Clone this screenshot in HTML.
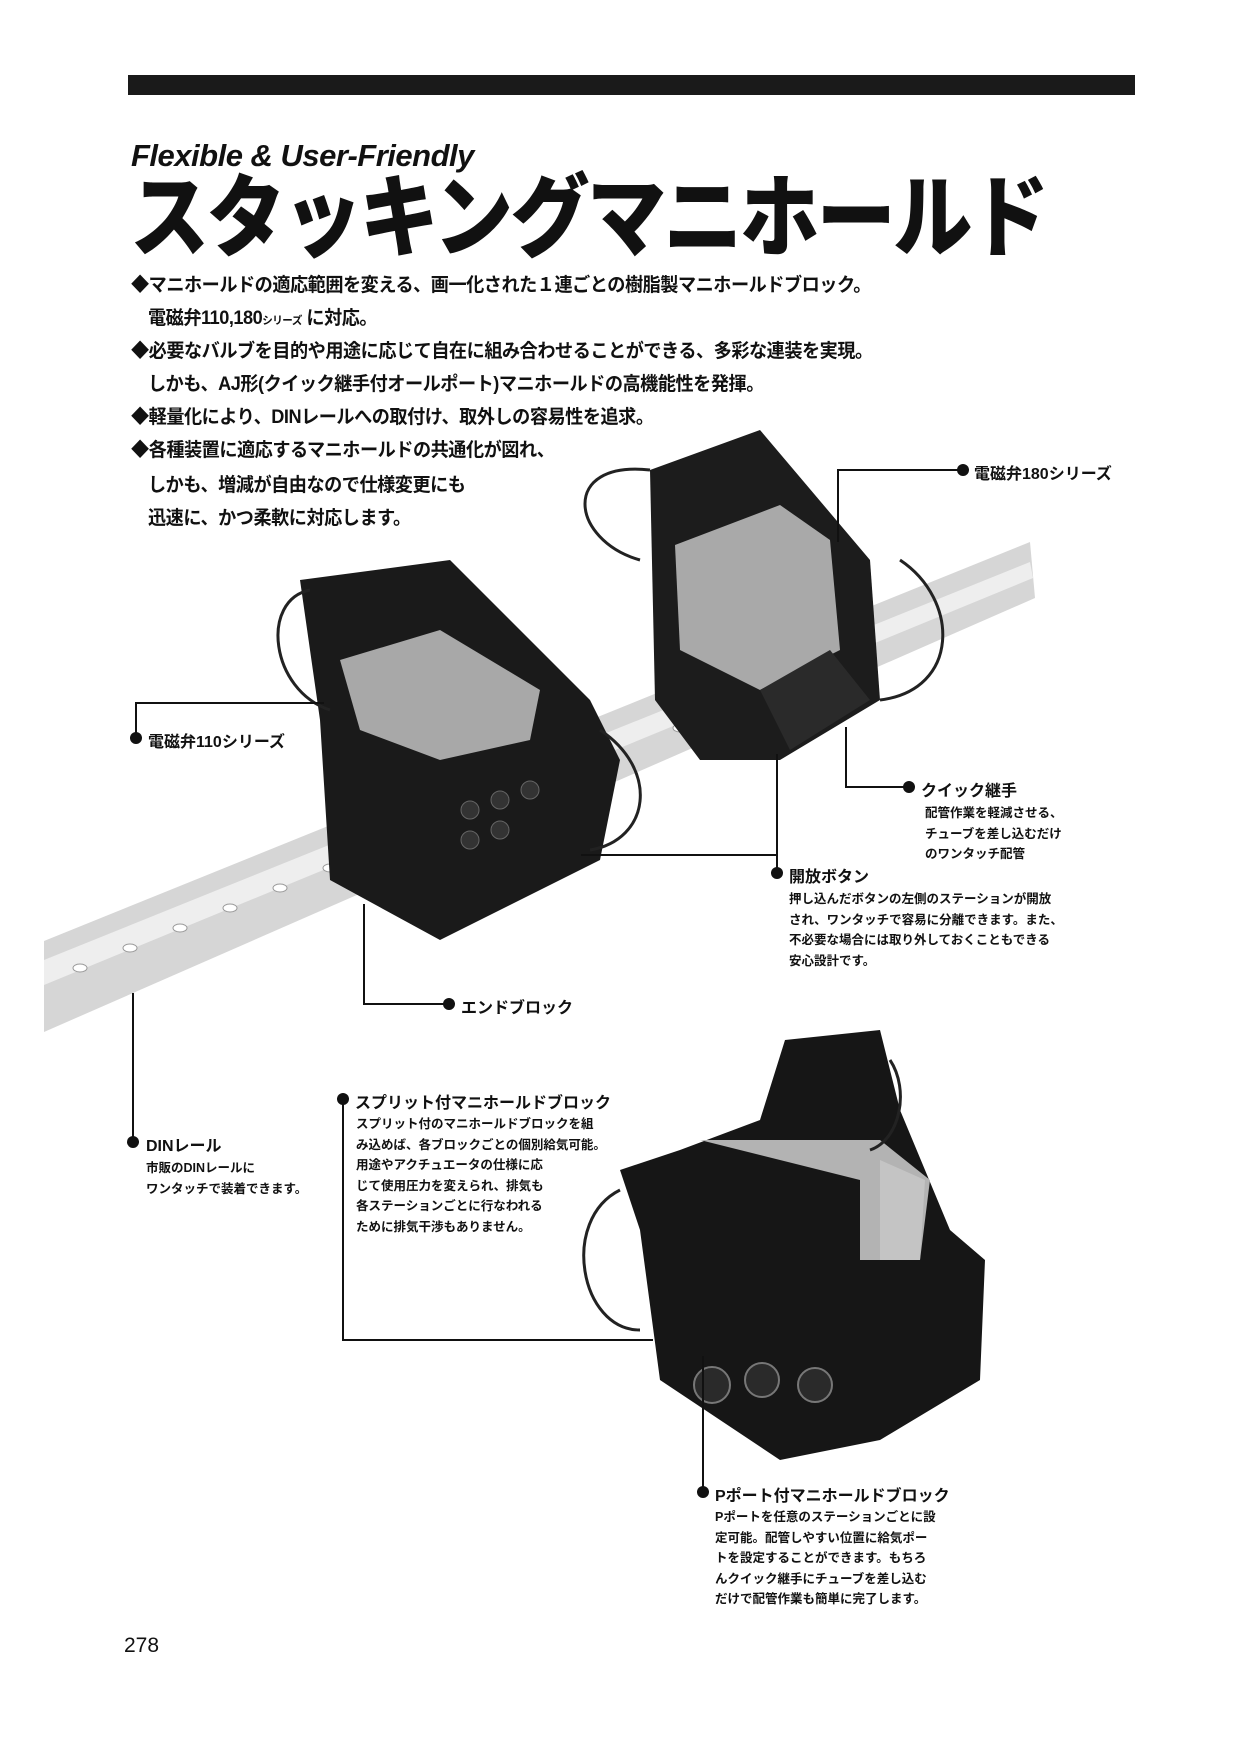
<!DOCTYPE html>
<html><head><meta charset="utf-8"><style>
html,body{margin:0;padding:0;background:#fff}
body{width:1240px;height:1753px;position:relative;overflow:hidden;font-family:"Liberation Sans","Noto Sans CJK JP",sans-serif;color:#111}
.a{position:absolute;white-space:nowrap}
.b{font-size:19px;font-weight:bold;letter-spacing:-0.5px;transform:scaleX(0.955);transform-origin:left}
.lab{font-size:16px;font-weight:bold}
.d{font-size:12.5px;font-weight:bold;line-height:20.5px;white-space:nowrap}
svg{position:absolute;left:0;top:0}
</style></head><body>
<svg width="1240" height="1753" viewBox="0 0 1240 1753">
<rect x="128" y="75" width="1007" height="20" fill="#1a1a1a"/>
<polygon points="44,941 1030,542 1035,598 44,1032" fill="#d6d6d6"/>
<polygon points="44,960 1030,562 1033,578 44,985" fill="#eeeeee"/>
<g fill="#fff" stroke="#999" stroke-width="1">
<ellipse cx="80" cy="968" rx="7" ry="4"/><ellipse cx="130" cy="948" rx="7" ry="4"/><ellipse cx="180" cy="928" rx="7" ry="4"/><ellipse cx="230" cy="908" rx="7" ry="4"/><ellipse cx="280" cy="888" rx="7" ry="4"/><ellipse cx="330" cy="868" rx="7" ry="4"/><ellipse cx="680" cy="728" rx="7" ry="4"/><ellipse cx="720" cy="712" rx="7" ry="4"/>
</g>
<polygon points="650,470 760,430 870,560 880,700 780,760 700,760 655,700" fill="#1c1c1c"/>
<polygon points="675,545 780,505 830,540 840,650 760,690 680,650" fill="#a9a9a9"/>
<polygon points="760,690 830,650 870,700 790,750" fill="#2a2a2a"/>
<g fill="none" stroke="#222" stroke-width="3"><path d="M650,470 C560,460 570,540 640,560"/><path d="M900,560 C960,600 960,690 880,700"/></g>
<polygon points="300,580 450,560 590,700 620,760 600,860 440,940 330,880 320,720" fill="#1a1a1a"/>
<polygon points="340,660 440,630 540,690 530,740 440,760 360,730" fill="#a8a8a8"/>
<g fill="none" stroke="#222" stroke-width="3"><path d="M310,590 C260,600 270,690 330,710"/><path d="M600,730 C660,770 650,840 590,850"/></g>
<g fill="#333" stroke="#666"><circle cx="470" cy="810" r="9"/><circle cx="500" cy="800" r="9"/><circle cx="530" cy="790" r="9"/><circle cx="470" cy="840" r="9"/><circle cx="500" cy="830" r="9"/></g>
<polygon points="785,1040 880,1030 900,1110 950,1230 985,1260 980,1380 880,1440 780,1460 660,1380 640,1230 620,1170 680,1150 760,1120" fill="#161616"/>
<polygon points="700,1140 880,1140 930,1180 920,1260 860,1260 860,1180" fill="#b3b3b3"/>
<polygon points="880,1160 925,1180 920,1260 880,1260" fill="#c4c4c4"/>
<g fill="none" stroke="#222" stroke-width="3"><path d="M620,1190 C560,1220 580,1330 640,1330"/><path d="M890,1060 C910,1090 900,1140 870,1150"/></g>
<g fill="#2a2a2a" stroke="#777" stroke-width="2"><circle cx="712" cy="1385" r="18"/><circle cx="762" cy="1380" r="17"/><circle cx="815" cy="1385" r="17"/></g>
<g stroke="#111" stroke-width="2" fill="none">
<polyline points="838,542 838,470 963,470"/>
<polyline points="324,703 136,703 136,738"/>
<polyline points="846,727 846,787 909,787"/>
<polyline points="581,855 777,855"/><line x1="777" y1="754" x2="777" y2="873"/>
<polyline points="364,904 364,1004 449,1004"/>
<line x1="133" y1="993" x2="133" y2="1142"/>
<polyline points="653,1340 343,1340 343,1099"/>
<line x1="703" y1="1356" x2="703" y2="1492"/>
</g>
<g fill="#111"><circle cx="963" cy="470" r="6"/><circle cx="136" cy="738" r="6"/><circle cx="909" cy="787" r="6"/><circle cx="777" cy="873" r="6"/><circle cx="449" cy="1004" r="6"/><circle cx="133" cy="1142" r="6"/><circle cx="343" cy="1099" r="6"/><circle cx="703" cy="1492" r="6"/></g>
</svg>
<div class="a" style="left:131px;top:138px;font-size:31px;font-weight:bold;font-style:italic;letter-spacing:-0.5px">Flexible &amp; User-Friendly</div>
<div class="a" style="left:130px;top:172px;font-size:90px;font-weight:900;line-height:94px;letter-spacing:-3px;transform:scaleX(0.88);transform-origin:left">スタッキングマニホールド</div>
<div class="a b" style="left:131px;top:270px">◆マニホールドの適応範囲を変える、画一化された１連ごとの樹脂製マニホールドブロック。</div>
<div class="a b" style="left:148px;top:303px">電磁弁110,180<span style="font-size:11px">シリーズ</span> に対応。</div>
<div class="a b" style="left:131px;top:336px">◆必要なバルブを目的や用途に応じて自在に組み合わせることができる、多彩な連装を実現。</div>
<div class="a b" style="left:148px;top:369px">しかも、AJ形(クイック継手付オールポート)マニホールドの高機能性を発揮。</div>
<div class="a b" style="left:131px;top:402px">◆軽量化により、DINレールへの取付け、取外しの容易性を追求。</div>
<div class="a b" style="left:131px;top:435px">◆各種装置に適応するマニホールドの共通化が図れ、</div>
<div class="a b" style="left:148px;top:470px">しかも、増減が自由なので仕様変更にも</div>
<div class="a b" style="left:148px;top:503px">迅速に、かつ柔軟に対応します。</div>

<div class="a lab" style="left:974px;top:460px">電磁弁180シリーズ</div>
<div class="a lab" style="left:148px;top:728px">電磁弁110シリーズ</div>
<div class="a lab" style="left:921px;top:777px">クイック継手</div>
<div class="a d" style="left:925px;top:803px">配管作業を軽減させる、<br>チューブを差し込むだけ<br>のワンタッチ配管</div>
<div class="a lab" style="left:789px;top:863px">開放ボタン</div>
<div class="a d" style="left:789px;top:889px">押し込んだボタンの左側のステーションが開放<br>され、ワンタッチで容易に分離できます。また、<br>不必要な場合には取り外しておくこともできる<br>安心設計です。</div>
<div class="a lab" style="left:461px;top:994px">エンドブロック</div>
<div class="a lab" style="left:146px;top:1132px">DINレール</div>
<div class="a d" style="left:146px;top:1158px">市販のDINレールに<br>ワンタッチで装着できます。</div>
<div class="a lab" style="left:355px;top:1089px">スプリット付マニホールドブロック</div>
<div class="a d" style="left:356px;top:1114px">スプリット付のマニホールドブロックを組<br>み込めば、各ブロックごとの個別給気可能。<br>用途やアクチュエータの仕様に応<br>じて使用圧力を変えられ、排気も<br>各ステーションごとに行なわれる<br>ために排気干渉もありません。</div>
<div class="a lab" style="left:715px;top:1482px">Pポート付マニホールドブロック</div>
<div class="a d" style="left:715px;top:1507px">Pポートを任意のステーションごとに設<br>定可能。配管しやすい位置に給気ポー<br>トを設定することができます。もちろ<br>んクイック継手にチューブを差し込む<br>だけで配管作業も簡単に完了します。</div>
<div class="a" style="left:124px;top:1634px;font-size:21px">278</div>
</body></html>
